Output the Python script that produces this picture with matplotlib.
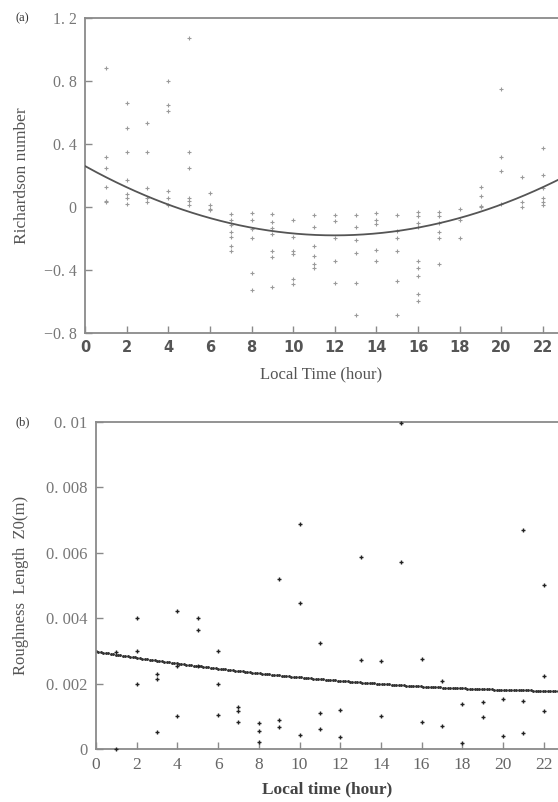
import numpy as np
import matplotlib
matplotlib.use("Agg")
import matplotlib.pyplot as plt
from matplotlib.ticker import FuncFormatter

# ---- (a) Richardson number by local hour ----
ri_hours = [1]*6 + [2]*7 + [3]*5 + [4]*6 + [5]*6 + [6]*4 + [7]*7 + [8]*6 + [9]*7 + \
           [10]*6 + [11]*6 + [12]*5 + [13]*6 + [14]*5 + [15]*6 + [16]*9 + [17]*6 + \
           [18]*3 + [19]*4 + [20]*4 + [21]*3 + [22]*6
ri_values = [0.88, 0.315, 0.25, 0.13, 0.04, 0.03,
             0.66, 0.50, 0.35, 0.17, 0.08, 0.06, 0.02,
             0.53, 0.35, 0.12, 0.055, 0.03,
             0.80, 0.65, 0.61, 0.10, 0.06, 0.01,
             1.07, 0.35, 0.245, 0.055, 0.04, 0.01,
             0.086, 0.01, -0.01, -0.02,
             -0.045, -0.08, -0.115, -0.16, -0.19, -0.25, -0.28,
             -0.04, -0.08, -0.14, -0.20, -0.42, -0.525,
             -0.045, -0.095, -0.135, -0.17, -0.28, -0.32, -0.51,
             -0.08, -0.19, -0.28, -0.30, -0.46, -0.49,
             -0.05, -0.13, -0.245, -0.31, -0.36, -0.39,
             -0.05, -0.09, -0.195, -0.345, -0.48,
             -0.05, -0.13, -0.21, -0.29, -0.485, -0.685,
             -0.04, -0.08, -0.11, -0.27, -0.34,
             -0.05, -0.15, -0.195, -0.28, -0.47, -0.685,
             -0.035, -0.055, -0.10, -0.13, -0.34, -0.39, -0.44, -0.55, -0.60,
             -0.03, -0.055, -0.10, -0.16, -0.195, -0.36,
             -0.01, -0.08, -0.20,
             0.13, 0.07, 0.005, 0.0,
             0.75, 0.315, 0.23, 0.02,
             0.19, 0.03, 0.0,
             0.375, 0.20, 0.12, 0.06, 0.03, 0.01]
# quadratic fit coefficients (c0, c1, c2)
ri_fit = [0.26, -0.0734, 0.00306]

# ---- (b) Roughness length Z0 by local hour ----
z0_hours = [1, 1, 2, 2, 2, 3, 3, 3, 4, 4, 4, 5, 5, 5, 6, 6, 6, 7, 7, 7,
            8, 8, 8, 9, 9, 9, 10, 10, 10, 11, 11, 11, 12, 12, 13, 13, 14, 14,
            15, 15, 16, 16, 17, 17, 18, 18, 19, 19, 20, 20, 21, 21, 21, 22, 22, 22]
z0_values = [0.00296, 0.0, 0.00401, 0.00299, 0.00199, 0.00228, 0.00214, 0.00051,
             0.00421, 0.00253, 0.00102, 0.00401, 0.00365, 0.00253,
             0.00299, 0.00200, 0.00105, 0.00129, 0.00115, 0.00082,
             0.00079, 0.00054, 0.00021, 0.00518, 0.00090, 0.00066,
             0.00686, 0.00446, 0.00044, 0.00325, 0.00109, 0.00060,
             0.00118, 0.00036, 0.00587, 0.00271, 0.00269, 0.00102,
             0.00997, 0.00572, 0.00275, 0.00082, 0.00207, 0.00071,
             0.00138, 0.00018, 0.00145, 0.00099, 0.00153, 0.00041,
             0.00669, 0.00148, 0.00049, 0.00500, 0.00222, 0.00115]
z0_fit = [0.00298, -0.0000994, 0.00000204]

x_ticks = list(range(0, 23, 2))
ri_ticks = [-0.8, -0.4, 0, 0.4, 0.8, 1.2]
z0_ticks = [0, 0.002, 0.004, 0.006, 0.008, 0.01]

SPINE = "#8a8a8a"
TEXT = "#555555"
SERIF = "Liberation Serif"


def spaced(v, pos=None, decimals=1):
    if v == 0:
        return "0"
    s = f"{abs(v):.{decimals}f}".rstrip("0").rstrip(".")
    s = s.replace(".", ". ")
    return ("\u2212" if v < 0 else "") + s


def style_axes(ax):
    for side in ("left", "bottom", "top"):
        ax.spines[side].set_color(SPINE)
        ax.spines[side].set_linewidth(1.3)
    ax.spines["right"].set_visible(False)
    ax.tick_params(direction="in", length=5, width=1, color=SPINE,
                   top=False, right=False)


fig = plt.figure(figsize=(5.58, 8.02), dpi=100)

# panel (a)
ax1 = fig.add_axes([0.1523, 0.5848, 0.8477, 0.3928])
style_axes(ax1)
ax1.scatter(ri_hours, ri_values, marker="+", s=9, color="#9a9a9a", linewidths=0.8, zorder=2)
xs = np.linspace(0, 22.75, 200)
ax1.plot(xs, ri_fit[0] + ri_fit[1] * xs + ri_fit[2] * xs**2, color="#555555", lw=1.3, zorder=3)
ax1.set_xlim(0, 22.72)
ax1.set_ylim(-0.8, 1.2)
ax1.set_xticks(x_ticks)
ax1.set_yticks(ri_ticks)
ax1.yaxis.set_major_formatter(FuncFormatter(lambda v, p: spaced(v, p, 1)))
for lab in ax1.get_yticklabels():
    lab.set_fontfamily(SERIF)
    lab.set_fontsize(11.5)
    lab.set_color("#777777")
for lab in ax1.get_xticklabels():
    lab.set_fontfamily("DejaVu Sans")
    lab.set_fontweight("bold")
    lab.set_fontsize(10.5)
    lab.set_color("#555555")
ax1.tick_params(axis="y", pad=6)
ax1.tick_params(axis="x", pad=5)
ax1.set_xlabel("Local Time (hour)", fontfamily=SERIF, fontsize=12, color=TEXT, labelpad=8)
ax1.set_ylabel("Richardson number", fontfamily=SERIF, fontsize=12.5, color=TEXT, labelpad=10)
fig.text(0.027, 0.977, "(a)", fontfamily=SERIF, fontsize=9, color="#333333", va="center")

# panel (b)
ax2 = fig.add_axes([0.172, 0.0661, 0.828, 0.4081])
style_axes(ax2)
ax2.scatter(z0_hours, z0_values, marker="+", s=10, color="#222222", linewidths=1.0,
            zorder=3, clip_on=False)
xs2 = np.arange(0, 22.8, 0.12)
ax2.plot(xs2, z0_fit[0] + z0_fit[1] * xs2 + z0_fit[2] * xs2**2, ls="none", marker=".",
         ms=2.2, color="#333333", zorder=2)
ax2.set_xlim(0, 22.7)
ax2.set_ylim(0, 0.01)
ax2.set_xticks(x_ticks)
ax2.set_yticks(z0_ticks)
ax2.yaxis.set_major_formatter(FuncFormatter(lambda v, p: spaced(v, p, 3)))
for lab in ax2.get_yticklabels():
    lab.set_fontfamily(SERIF)
    lab.set_fontsize(12)
    lab.set_color("#777777")
for lab in ax2.get_xticklabels():
    lab.set_fontfamily(SERIF)
    lab.set_fontsize(12.5)
    lab.set_color("#666666")
ax2.tick_params(axis="y", pad=6)
ax2.tick_params(axis="x", pad=6)
ax2.set_xlabel("Local time (hour)", fontfamily=SERIF, fontsize=12.5, fontweight="bold",
               color="#444444", labelpad=6)
ax2.set_ylabel("Roughness  Length  Z0(m)", fontfamily=SERIF, fontsize=12, color=TEXT, labelpad=12)
fig.text(0.027, 0.474, "(b)", fontfamily=SERIF, fontsize=9, color="#333333", va="center")

fig.savefig("out.png", dpi=100)
